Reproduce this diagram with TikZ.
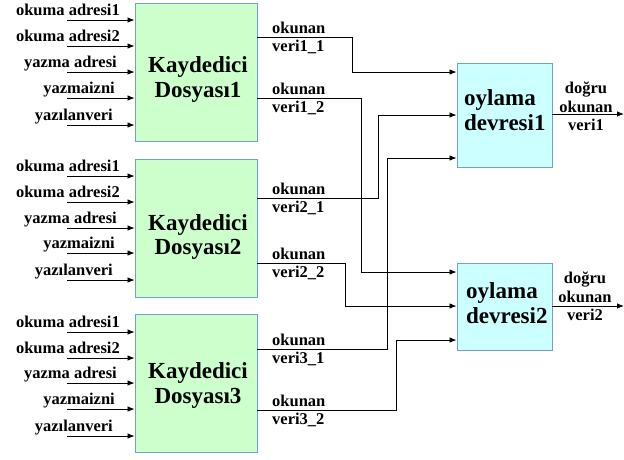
\documentclass[tikz,border=0pt]{standalone}
\usepackage{fontspec}
\setmainfont{Liberation Serif}
\usetikzlibrary{arrows.meta}
\definecolor{regfill}{RGB}{204,255,204}
\definecolor{votefill}{RGB}{204,255,255}
\definecolor{boxedge}{RGB}{114,159,207}
\begin{document}
\begin{tikzpicture}[x=1pt,y=-1pt,
  regbox/.style={draw=boxedge,fill=regfill,line width=0.9pt,inner sep=0pt,
    minimum width=122pt,minimum height=138pt},
  votebox/.style={draw=boxedge,fill=votefill,line width=0.9pt,inner sep=0pt,
    minimum width=95pt},
  title/.style={inner sep=0pt,anchor=base,font=\fontsize{23}{25}\selectfont\bfseries},
  vtitle/.style={inner sep=0pt,anchor=base west,font=\fontsize{23}{25}\selectfont\bfseries},
  lbl/.style={inner sep=0pt,font=\fontsize{16.5}{18.5}\selectfont\bfseries},
  sig/.style={draw=black,line width=0.8pt,-{Latex[length=7pt,width=5.5pt]}},
  wire/.style={draw=black,line width=0.8pt}]
\useasboundingbox (0,0) rectangle (624,459);

% register files
\node[regbox] (rf1) at (196,72) {};
\node[regbox] (rf2) at (196,228) {};
\node[regbox] (rf3) at (196,383.5) {};
\node[title] (rf1a) at (198,72) {Kaydedici};
\node[title] (rf1b) at (198,97) {Dosyası1};
\node[title] (rf2a) at (198,230) {Kaydedici};
\node[title] (rf2b) at (198,254) {Dosyası2};
\node[title] (rf3a) at (198,378) {Kaydedici};
\node[title] (rf3b) at (198,403) {Dosyası3};

% voters
\node[votebox,minimum height=104pt] (v1) at (504.5,115) {};
\node[votebox,minimum height=87pt] (v2) at (504.5,306.5) {};
\node[vtitle] (v1a) at (464,105) {oylama};
\node[vtitle] (v1b) at (464,130) {devresi1};
\node[vtitle] (v2a) at (466,298) {oylama};
\node[vtitle] (v2b) at (466,323) {devresi2};

% register file inputs
\foreach \r/\ys in {rf1/{20,46,72,98,125}, rf2/{176,202,228,253,280}, rf3/{332,358,383,409,436}}{
  \foreach \y [count=\i] in \ys {
    \coordinate (\r in\i) at (67,\y);
    \draw[sig] (\r in\i) -- (\r.west |- \r in\i);
  }
}
\foreach \r in {rf1,rf2,rf3}{
  \node[lbl,anchor=base east] (\r l1) at ([yshift=5pt]\r in1 -| 120,0) {okuma adresi1};
  \node[lbl,anchor=base east] (\r l2) at ([yshift=5pt]\r in2 -| 120,0) {okuma adresi2};
  \node[lbl,anchor=base east] (\r l3) at ([yshift=5pt]\r in3 -| 117,0) {yazma adresi};
  \node[lbl,anchor=base east] (\r l4) at ([yshift=5pt]\r in4 -| 115,0) {yazmaizni};
  \node[lbl,anchor=base east] (\r l5) at ([yshift=5pt]\r in5 -| 113,0) {yazılanveri};
}

% read data routed to the voters
\draw[sig] (rf1.east |- 0,37)  -| (352,72)  -- (v1.west |- 0,72);
\draw[sig] (rf1.east |- 0,98)  -| (361,272) -- (v2.west |- 0,272);
\draw[sig] (rf2.east |- 0,198) -| (378,115) -- (v1.west |- 0,115);
\draw[sig] (rf2.east |- 0,263) -| (345,306) -- (v2.west |- 0,306);
\draw[sig] (rf3.east |- 0,349) -| (387,158) -- (v1.west |- 0,158);
\draw[sig] (rf3.east |- 0,410) -| (396,340) -- (v2.west |- 0,340);

% read data labels
\foreach \n/\k/\y in {1/1/37, 1/2/98, 2/1/198, 2/2/263, 3/1/349, 3/2/410}{
  \node[lbl,anchor=base west] (rf\n o\k a) at (272,\y-4) {okunan};
  \node[lbl,anchor=base west] (rf\n o\k b) at (272,\y+14) {veri\n\_\k};
}

% voter outputs
\coordinate (out1) at (624,114);
\coordinate (out2) at (624,306);
\draw[sig] (v1.east |- out1) -- (out1);
\draw[sig] (v2.east |- out2) -- (out2);
\node[lbl,anchor=base] (d1a) at (586,93)  {doğru};
\node[lbl,anchor=base] (d1b) at (586,112) {okunan};
\node[lbl,anchor=base] (d1c) at (586,130) {veri1};
\node[lbl,anchor=base] (d2a) at (585,283) {doğru};
\node[lbl,anchor=base] (d2b) at (585,302) {okunan};
\node[lbl,anchor=base] (d2c) at (585,320) {veri2};
\end{tikzpicture}
\end{document}
